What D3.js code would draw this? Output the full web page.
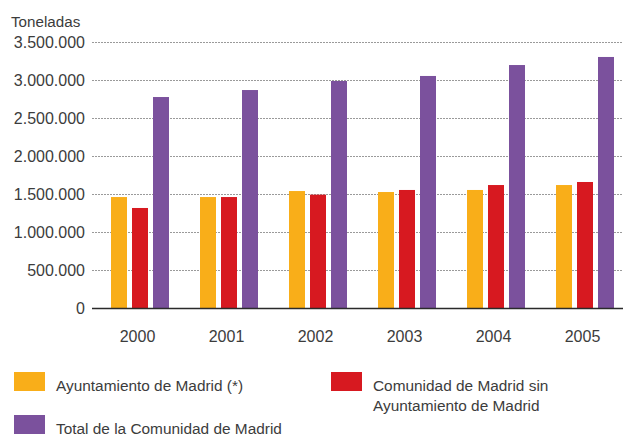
<!DOCTYPE html>
<meta charset="utf-8">
<head>
<script src="https://d3js.org/d3.v7.min.js"></script>
<style>
body { margin: 0; background: #fff; }
text { font-family: "Liberation Sans", Arial, sans-serif; fill: #3c3c3c; }
.grid line { stroke: #9a9a9a; stroke-dasharray: 2,1; stroke-width: 1.2px; }
.grid path { stroke-width: 0; }
</style>
</head>
<body>
<svg></svg>
<script>
var years = ["2000", "2001", "2002", "2003", "2004", "2005"];
var ayuntamiento = [1460000, 1460000, 1539000, 1526000, 1553000, 1618000];
var comunidadSin = [1316000, 1460000, 1491000, 1553000, 1618000, 1658000];
var totalComunidad = [2776000, 2868000, 2987000, 3053000, 3197000, 3303000];
var yTicks = [0, 500000, 1000000, 1500000, 2000000, 2500000, 3000000, 3500000];
var seriesNames = ["Ayuntamiento de Madrid (*)", "Comunidad de Madrid sin|Ayuntamiento de Madrid", "Total de la Comunidad de Madrid"];
var colors = ["#f9ae19", "#d71920", "#7b519d"];

var width = 623, height = 436;
var plotLeft = 92, plotRight = 623, plotTop = 42, plotBottom = 308;

var svg = d3.select("svg").attr("width", width).attr("height", height);

var x = d3.scaleBand().domain(years).range([95.5, 629.5]);
var y = d3.scaleLinear().domain([0, 3500000]).range([plotBottom, plotTop]);
var fmt = function(v) { return d3.format(",")(v).replace(/,/g, "."); };

// gridlines
svg.append("g")
    .attr("class", "grid")
    .attr("transform", "translate(" + plotLeft + ",0)")
    .call(d3.axisLeft(y).tickValues(yTicks.slice(1)).tickSize(-(plotRight - plotLeft)).tickFormat(""));

// tick labels
svg.append("g").selectAll("text")
    .data(yTicks)
    .enter().append("text")
    .attr("x", 85)
    .attr("y", function(d) { return y(d); })
    .attr("dy", "0.36em")
    .attr("text-anchor", "end")
    .style("font-size", "16px")
    .text(fmt);

svg.append("text")
    .attr("x", 11).attr("y", 26.5)
    .style("font-size", "15.2px")
    .text("Toneladas");

// bars
var data = years.map(function(yr, i) { return [ayuntamiento[i], comunidadSin[i], totalComunidad[i]]; });
var barW = 16, barStep = 21;
var groups = svg.append("g").selectAll("g")
    .data(data)
    .enter().append("g")
    .attr("transform", function(d, i) { return "translate(" + (x(years[i]) + x.bandwidth() / 2) + ",0)"; });
groups.selectAll("rect")
    .data(function(d) { return d; })
    .enter().append("rect")
    .attr("x", function(d, j) { return (j - 1) * barStep - barW / 2; })
    .attr("width", barW)
    .attr("y", function(d) { return y(d); })
    .attr("height", function(d) { return plotBottom - y(d); })
    .attr("fill", function(d, j) { return colors[j]; });

// baseline
svg.append("line")
    .attr("x1", plotLeft).attr("x2", plotRight)
    .attr("y1", plotBottom + 0.5).attr("y2", plotBottom + 0.5)
    .style("stroke", "#2a2a2a").style("stroke-width", "1.5px");

// year labels
svg.append("g").selectAll("text")
    .data(years)
    .enter().append("text")
    .attr("x", function(d) { return x(d) + x.bandwidth() / 2 - 2.5; })
    .attr("y", 341.5)
    .attr("text-anchor", "middle")
    .style("font-size", "16px")
    .text(function(d) { return d; });

// legend
var legendPos = [[14, 372], [331, 372], [14, 415]];
var legend = svg.append("g").selectAll("g")
    .data(seriesNames)
    .enter().append("g")
    .attr("transform", function(d, i) { return "translate(" + legendPos[i][0] + "," + legendPos[i][1] + ")"; });
legend.append("rect")
    .attr("width", 31).attr("height", 19)
    .attr("fill", function(d, i) { return colors[i]; });
legend.append("text")
    .attr("y", 19)
    .style("font-size", "15.4px")
    .selectAll("tspan")
    .data(function(d) { return d.split("|"); })
    .enter().append("tspan")
    .attr("x", 42)
    .attr("dy", function(d, k) { return k === 0 ? 0 : 20; })
    .text(function(d) { return d; });
</script>
</body>
